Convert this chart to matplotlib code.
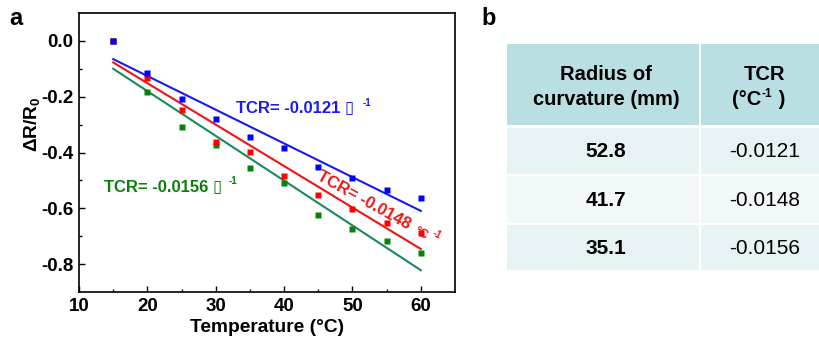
import numpy as np
import matplotlib
matplotlib.use("Agg")
import matplotlib.pyplot as plt
from matplotlib.patches import Rectangle

plt.rcParams['font.family'] = ['Liberation Sans', 'DejaVu Sans']
plt.rcParams['mathtext.fontset'] = 'custom'
plt.rcParams['mathtext.rm'] = 'Liberation Sans:bold'
plt.rcParams['mathtext.bf'] = 'Liberation Sans:bold'
plt.rcParams['mathtext.default'] = 'regular'

# ---- data ----
temperature = [15, 20, 25, 30, 35, 40, 45, 50, 55, 60]
r_52_8 = [0.0, -0.116, -0.208, -0.280, -0.344, -0.383, -0.452, -0.492, -0.535, -0.563]
r_41_7 = [0.0, -0.134, -0.246, -0.361, -0.397, -0.483, -0.551, -0.603, -0.652, -0.688]
r_35_1 = [0.0, -0.182, -0.309, -0.373, -0.456, -0.510, -0.624, -0.675, -0.718, -0.761]

table_radius = ["52.8", "41.7", "35.1"]
table_tcr = ["-0.0121", "-0.0148", "-0.0156"]

xticks = [10, 20, 30, 40, 50, 60]
yticks = [0.0, -0.2, -0.4, -0.6, -0.8]

W, H = 819, 347
fig = plt.figure(figsize=(W / 100, H / 100), dpi=100)

ax = fig.add_axes([79 / W, 1 - 292 / H, 376 / W, 279 / H])
ax.set_xlim(10, 65)
ax.set_ylim(-0.9, 0.1)

series = [
    (r_35_1, '#0a800a', '#1a8a5a'),
    (r_41_7, '#ff0000', '#f21212'),
    (r_52_8, '#0000ff', '#1a1af0'),
]
x = np.array(temperature, dtype=float)
for ys, mc, lc in series:
    k, b = np.polyfit(x, np.array(ys), 1)
    ax.plot([x[0], x[-1]], [k * x[0] + b, k * x[-1] + b], color=lc, lw=1.5, zorder=2)
for ys, mc, lc in series:
    ax.plot(x, ys, 's', color=mc, ms=5, mec='none', zorder=3)

ax.set_xticks(xticks)
ax.set_yticks(yticks)
ax.set_xticklabels([str(t) for t in xticks])
ax.set_yticklabels(["%.1f" % t for t in yticks])
ax.set_xticks([15, 25, 35, 45, 55], minor=True)
ax.set_yticks([-0.1, -0.3, -0.5, -0.7], minor=True)
ax.tick_params(which='both', direction='in', top=False, right=False, width=1.0)
ax.tick_params(which='major', length=4, labelsize=13.5, pad=4)
ax.tick_params(which='minor', length=2)
for lab in ax.get_xticklabels() + ax.get_yticklabels():
    lab.set_fontweight('bold')
for sp in ax.spines.values():
    sp.set_linewidth(1.2)

ax.set_xlabel("Temperature (°C)", fontsize=13.8, fontweight='bold', labelpad=3)
ax.set_ylabel(r"ΔR/R$_0$", fontsize=13.8, fontweight='bold')
ax.yaxis.set_label_coords(-0.098, 0.6)

# annotations
ax.text(32.95, -0.257, "TCR= -0.0121 \u25af", color='#1a1af0', fontsize=12,
        fontweight='bold', ha='left', va='baseline')
ax.text(52.1, -0.232, "-1", color='#1a1af0', fontsize=7, fontweight='bold',
        ha='center', va='baseline')
ax.text(13.65, -0.540, "TCR= -0.0156 \u25af", color='#0a800a', fontsize=12,
        fontweight='bold', ha='left', va='baseline')
ax.text(32.5, -0.512, "-1", color='#0a800a', fontsize=7, fontweight='bold',
        ha='center', va='baseline')
ax.text(44.6, -0.494, "TCR= -0.0148", color='#f21212', fontsize=12,
        fontweight='bold', ha='left', va='baseline', rotation=-29,
        rotation_mode='anchor')
ax.text(60.1, -0.69, "°C", color='#f21212', fontsize=9, fontweight='bold',
        ha='center', va='center', rotation=-29)
ax.text(62.4, -0.695, "-1", color='#f21212', fontsize=7, fontweight='bold',
        ha='center', va='center', rotation=-29)

# ---- table panel ----
tab = fig.add_axes([0, 0, 1, 1], zorder=-1)
tab.set_xlim(0, W)
tab.set_ylim(H, 0)
tab.axis('off')

x0, xm, x1 = 506.5, 699.5, 819
row_bounds = [(44, 124.5), (128, 173.5), (175.5, 222.5), (224.5, 269.5)]
fills = ['#b9dfe2', '#e6f2f3', '#f2f8fa', '#e6f2f3']
for (ya, yb), fc in zip(row_bounds, fills):
    tab.add_patch(Rectangle((x0, ya), xm - 1 - x0, yb - ya, fc=fc, ec='none'))
    tab.add_patch(Rectangle((xm + 1, ya), x1 - xm - 1, yb - ya, fc=fc, ec='none'))

c1, c2 = 606, 765
tab.text(c1, 80, "Radius of", fontsize=14.5, fontweight='bold', ha='center', va='baseline')
tab.text(c1, 105, "curvature (mm)", fontsize=14.5, fontweight='bold', ha='center', va='baseline')
tab.text(c2, 80, "TCR", fontsize=14.5, fontweight='bold', ha='center', va='baseline')
tab.text(c2 - 4, 105, "(°C", fontsize=14.5, fontweight='bold', ha='right', va='baseline')
tab.text(c2 - 4, 97, "-1", fontsize=8.5, fontweight='bold', ha='left', va='baseline')
tab.text(c2 + 8, 105, " )", fontsize=14.5, fontweight='bold', ha='left', va='baseline')
for i, (rv, tv) in enumerate(zip(table_radius, table_tcr)):
    ya, yb = row_bounds[i + 1]
    yc = (ya + yb) / 2 + 1
    tab.text(c1, yc, rv, fontsize=15, fontweight='bold', ha='center', va='center')
    tab.text(c2, yc, tv, fontsize=15, ha='center', va='center')

fig.text(9 / W, 1 - 25 / H, "a", fontsize=17, fontweight='bold', ha='left', va='baseline')
fig.text(481 / W, 1 - 25 / H, "b", fontsize=17, fontweight='bold', ha='left', va='baseline')

fig.savefig("out.png", dpi=100)
